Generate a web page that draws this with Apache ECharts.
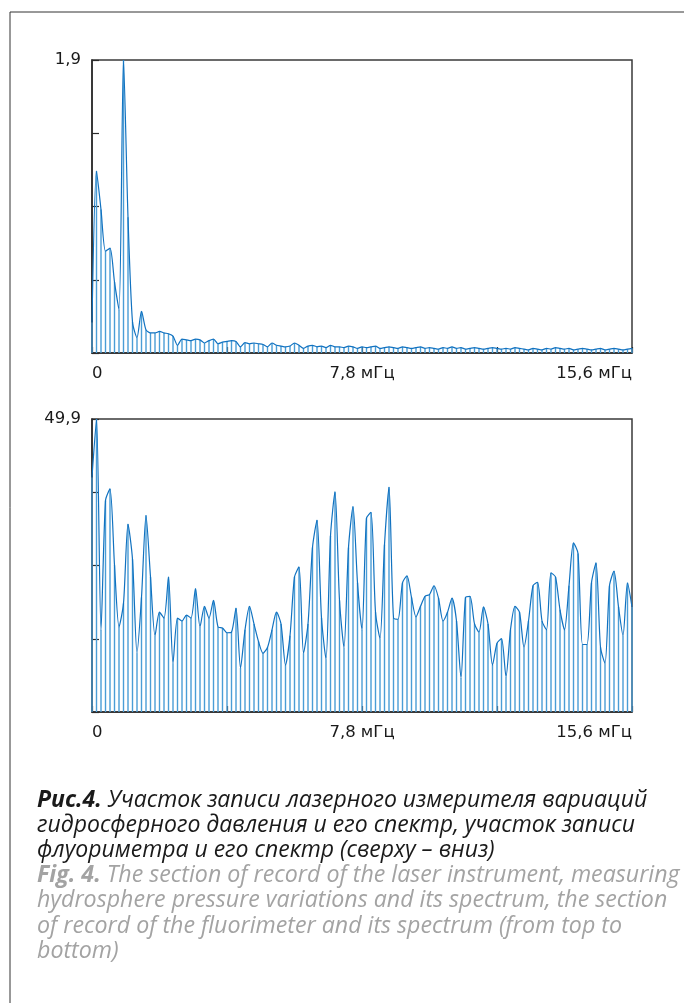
<!DOCTYPE html>
<html>
<head>
<meta charset="utf-8">
<script src="https://cdn.jsdelivr.net/npm/echarts@6/dist/echarts.min.js"></script>
<style>
  html, body { margin: 0; padding: 0; background: #fff; }
  #chart { width: 684px; height: 1003px; }
</style>
</head>
<body>
<div id="chart"></div>
<script>
// spectrum of the laser pressure record (top) and of the fluorimeter (bottom)
var freqMax = 15.6;
var freqTicks = ['0', '7,8 мГц', '15,6 мГц'];
var topMax = 1.9;
var bottomMax = 49.9;

var topValues = [
  0.2, 1.18, 0.93, 0.66, 0.68, 0.46, 0.28, 1.9, 0.88, 0.2,
  0.1, 0.27, 0.15, 0.13, 0.13, 0.14, 0.13, 0.125, 0.11, 0.05,
  0.09, 0.085, 0.08, 0.09, 0.085, 0.065, 0.08, 0.09, 0.06, 0.07,
  0.075, 0.08, 0.075, 0.04, 0.067, 0.06, 0.065, 0.06, 0.055, 0.04,
  0.065, 0.05, 0.045, 0.04, 0.045, 0.065, 0.05, 0.03, 0.045, 0.05,
  0.04, 0.045, 0.035, 0.05, 0.04, 0.04, 0.035, 0.045, 0.04, 0.03,
  0.04, 0.035, 0.04, 0.045, 0.03, 0.035, 0.04, 0.035, 0.03, 0.04,
  0.035, 0.03, 0.035, 0.04, 0.03, 0.035, 0.03, 0.025, 0.035, 0.03,
  0.04, 0.03, 0.035, 0.025, 0.03, 0.035, 0.03, 0.025, 0.03, 0.035,
  0.03, 0.025, 0.03, 0.025, 0.035, 0.03, 0.025, 0.02, 0.03, 0.025,
  0.02, 0.03, 0.025, 0.035, 0.03, 0.025, 0.03, 0.02, 0.025, 0.03,
  0.025, 0.02, 0.025, 0.03, 0.02, 0.025, 0.03, 0.025, 0.02, 0.025,
  0.03
];

var bottomValues = [
  40, 49.9, 14, 36, 38, 25, 14.5, 18.5, 32, 26,
  10, 19.5, 33.5, 23, 13, 17, 16, 23, 8.3, 16,
  15.5, 16.5, 16, 21, 14.5, 18, 16, 19, 14.5, 14.3,
  13.5, 13.6, 17.7, 7.5, 14, 18, 15, 12, 10, 11,
  14, 17, 15, 8, 13, 23, 24.7, 10, 15, 28,
  32.7, 16, 9, 30, 37.5, 19, 11, 28, 35, 22,
  14, 33, 34, 17, 12.5, 28.5, 38.3, 16, 15.8, 22,
  23.2, 19.5, 16.2, 18, 19.7, 20, 21.5, 19.4, 15.5, 17,
  19.4, 15.5, 5.8, 19.5, 19.7, 15, 13.6, 17.9, 15, 8,
  11.7, 12.5, 6, 14, 18, 17, 11, 15.5, 21.5, 22.1,
  15.5, 14, 23.7, 23, 17.4, 14, 21.5, 28.8, 27, 11.5,
  11.5, 22, 25.4, 11, 8.3, 21.5, 24, 17.9, 13, 22,
  17.9
];

var captionRu = [
  ['Рис.4.', ' Участок записи лазерного измерителя вариаций'],
  ['', 'гидросферного давления и его спектр, участок записи'],
  ['', 'флуориметра и его спектр (сверху – вниз)']
];
var captionEn = [
  ['Fig. 4.', ' The section of record of the laser instrument, measuring'],
  ['', 'hydrosphere pressure variations and its spectrum, the section'],
  ['', 'of record of the fluorimeter and its spectrum (from top to'],
  ['', 'bottom)']
];

var stemColor = '#4a9dd6';
var lineColor = '#1172c0';
var axisColor = '#2a2a2a';
var labelFont = 'DejaVu Sans';
var captionFont = 'Open Sans';

function toPairs(list) {
  var n = list.length;
  return list.map(function(v, i) {
    return [i * freqMax / (n - 1), v];
  });
}

function xLabel(v) {
  if (Math.abs(v) < 0.01) return freqTicks[0];
  if (Math.abs(v - 7.8) < 0.01) return freqTicks[1];
  if (Math.abs(v - 15.6) < 0.01) return freqTicks[2];
  return '';
}

function makeX(idx) {
  return {
    type: 'value', gridIndex: idx, min: 0, max: freqMax, interval: freqMax / 4,
    axisLine: { lineStyle: { color: axisColor, width: 1.5 } },
    axisTick: { inside: true, length: 6, lineStyle: { color: axisColor, width: 1.2 } },
    splitLine: { show: false },
    axisLabel: {
      formatter: xLabel, margin: 12, color: '#1a1a1a',
      fontFamily: labelFont, fontSize: 16.5,
      alignMinLabel: 'left', alignMaxLabel: 'right',
      showMinLabel: true, showMaxLabel: true
    }
  };
}

function makeY(idx, max, text) {
  return {
    type: 'value', gridIndex: idx, min: 0, max: max, interval: max / 4,
    axisLine: { show: true, lineStyle: { color: axisColor, width: 1.5 } },
    axisTick: { show: true, inside: true, length: 7, lineStyle: { color: axisColor, width: 1.2 } },
    splitLine: { show: false },
    axisLabel: {
      margin: 11, color: '#1a1a1a', fontFamily: labelFont, fontSize: 16.5,
      showMaxLabel: true,
      formatter: function(v) {
        return Math.abs(v - max) < 1e-6 ? text : '';
      }
    }
  };
}

function makeSeries(idx, list) {
  var pairs = toPairs(list);
  return [{
    type: 'bar', xAxisIndex: idx, yAxisIndex: idx, data: pairs,
    barWidth: 1.4, itemStyle: { color: stemColor }, silent: true, animation: false
  }, {
    type: 'line', xAxisIndex: idx, yAxisIndex: idx, data: pairs, smooth: 0.25,
    showSymbol: false, lineStyle: { color: lineColor, width: 1.2 }, silent: true, animation: false
  }];
}

// caption lines are laid out one after another, 25px apart
function captionGraphics(lines, firstY, size, color) {
  return lines.map(function(line, i) {
    return {
      type: 'text', x: 37, y: firstY + i * 25.2,
      style: {
        text: (line[0] ? '{b|' + line[0] + '}' : '') + line[1],
        verticalAlign: 'middle',
        fill: color, fontFamily: captionFont, fontStyle: 'italic', fontSize: size,
        rich: { b: { fontFamily: captionFont, fontStyle: 'italic', fontWeight: 'bold', fontSize: size, fill: color } }
      }
    };
  });
}

var chart = echarts.init(document.getElementById('chart'), null, { renderer: 'canvas' });

var graphics = [
  { type: 'line', shape: { x1: 10, y1: 12, x2: 684, y2: 12 }, style: { stroke: '#333', lineWidth: 1 } },
  { type: 'line', shape: { x1: 10, y1: 12, x2: 10, y2: 1003 }, style: { stroke: '#333', lineWidth: 1 } }
].concat(captionGraphics(captionRu, 800, 23, '#1a1a1a'))
 .concat(captionGraphics(captionEn, 875.6, 23.2, '#a3a3a3'));

chart.setOption({
  backgroundColor: '#fff',
  animation: false,
  grid: [
    { left: 92, top: 60, width: 540, height: 293, show: true, borderColor: '#3a3a3a', borderWidth: 1.5 },
    { left: 92, top: 419, width: 540, height: 293, show: true, borderColor: '#3a3a3a', borderWidth: 1.5 }
  ],
  xAxis: [makeX(0), makeX(1)],
  yAxis: [makeY(0, topMax, '1,9'), makeY(1, bottomMax, '49,9')],
  series: makeSeries(0, topValues).concat(makeSeries(1, bottomValues)),
  graphic: graphics
});
</script>
</body>
</html>
